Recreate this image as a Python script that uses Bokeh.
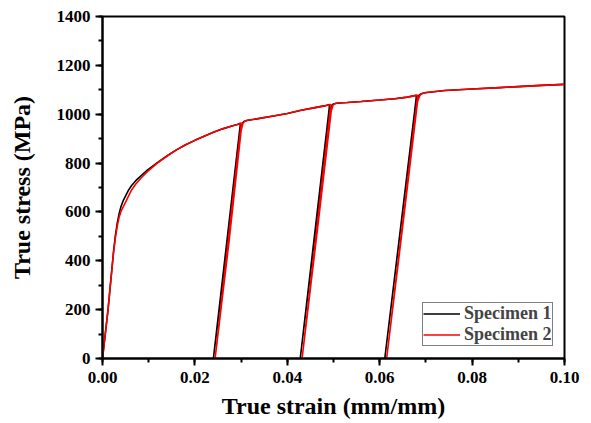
from bokeh.plotting import figure
from bokeh.models import SingleIntervalTicker, NumeralTickFormatter
from bokeh.embed import file_html
from bokeh.resources import INLINE

# Specimen 1 (black): loading, three unload/reload loops, final hardening
strain_1 = [0.0000, 0.0006, 0.0012, 0.0018, 0.0024, 0.0028, 0.0032, 0.0036, 0.0040, 0.0045,
            0.0050, 0.0056, 0.0063, 0.0072, 0.0085, 0.0097, 0.0118, 0.0140, 0.0160, 0.0180,
            0.0200, 0.0220, 0.0240, 0.0260, 0.0280, 0.0292, 0.02985, 0.02975, 0.0240,
            0.0271, 0.0298, 0.0302, 0.0306, 0.0312, 0.0340, 0.0370, 0.0400, 0.0430, 0.0460,
            0.0480, 0.04915, 0.04905, 0.0428, 0.0462, 0.0492, 0.0496, 0.0500, 0.0506, 0.0530,
            0.0560, 0.0600, 0.0633, 0.0660, 0.06795, 0.06785, 0.0611, 0.0647, 0.0679, 0.0684,
            0.0690, 0.0698, 0.0741, 0.0800, 0.0860, 0.0900, 0.0950, 0.1000]
stress_1 = [0, 100, 200, 320, 440, 505, 555, 593, 622, 647,
            666, 688, 708, 728, 751, 771, 801, 830, 854, 875,
            893, 910, 926, 940, 952, 958, 963, 945, 0,
            480, 930, 962, 970, 974, 983, 993, 1003, 1016, 1027,
            1034, 1040, 1020, 0, 540, 1010, 1036, 1042, 1045, 1048,
            1052, 1058, 1063, 1070, 1078, 1058, 0, 560, 1050, 1076,
            1084, 1088, 1097, 1103, 1109, 1113, 1118, 1122]

# Specimen 2 (red)
strain_2 = [0.0000, 0.0006, 0.0012, 0.0018, 0.0024, 0.0028, 0.0032, 0.0036, 0.0040, 0.0045,
            0.0050, 0.0056, 0.0063, 0.0072, 0.0085, 0.0097, 0.0118, 0.0140, 0.0160, 0.0180,
            0.0200, 0.0220, 0.0240, 0.0260, 0.0280, 0.0294, 0.03005, 0.02995, 0.02437,
            0.0274, 0.0300, 0.0304, 0.0308, 0.0314, 0.0340, 0.0370, 0.0400, 0.0430, 0.0460,
            0.0480, 0.0494, 0.0493, 0.0432, 0.0466, 0.0495, 0.0499, 0.0503, 0.0509, 0.0530,
            0.0560, 0.0600, 0.0633, 0.0660, 0.0682, 0.0681, 0.0615, 0.0651, 0.0682, 0.0687,
            0.0692, 0.0700, 0.0741, 0.0800, 0.0860, 0.0900, 0.0950, 0.1000]
stress_2 = [0, 100, 200, 320, 435, 495, 543, 578, 602, 622,
            640, 664, 690, 714, 742, 765, 799, 829, 854, 875,
            893, 910, 926, 940, 952, 959, 964, 946, 0,
            480, 932, 963, 971, 975, 983, 993, 1003, 1016, 1027,
            1034, 1040, 1020, 0, 540, 1012, 1037, 1043, 1046, 1048,
            1052, 1058, 1063, 1070, 1078, 1058, 0, 560, 1052, 1077,
            1085, 1089, 1097, 1103, 1109, 1113, 1118, 1122]

x_tick_interval = 0.02
y_tick_interval = 200

FONT = "Liberation Serif"

p = figure(width=589, height=421, x_range=(0, 0.1), y_range=(0, 1400),
           output_backend="svg", toolbar_location=None,
           min_border_left=102, min_border_right=25, min_border_top=16, min_border_bottom=62)

p.line(strain_1, stress_1, line_color="black", line_width=1.6, legend_label="Specimen 1")
p.line(strain_2, stress_2, line_color="#ff0000", line_width=1.6, legend_label="Specimen 2")

p.xgrid.visible = False
p.ygrid.visible = False
p.outline_line_color = "black"
p.outline_line_width = 2

p.xaxis.ticker = SingleIntervalTicker(interval=x_tick_interval, num_minor_ticks=2)
p.yaxis.ticker = SingleIntervalTicker(interval=y_tick_interval, num_minor_ticks=2)
p.xaxis.formatter = NumeralTickFormatter(format="0.00")
p.yaxis.formatter = NumeralTickFormatter(format="0")

for ax in (p.xaxis, p.yaxis):
    ax.axis_line_width = 2
    ax.axis_line_color = "black"
    ax.major_tick_line_width = 2
    ax.minor_tick_line_width = 2
    ax.major_tick_in = 0
    ax.major_tick_out = 7
    ax.minor_tick_in = 0
    ax.minor_tick_out = 4
    ax.major_label_text_font = FONT
    ax.major_label_text_font_style = "bold"
    ax.major_label_text_font_size = "17px"
    ax.major_label_text_color = "black"
    ax.axis_label_text_font = FONT
    ax.axis_label_text_font_style = "bold"
    ax.axis_label_text_font_size = "24px"
    ax.axis_label_text_color = "black"

p.xaxis.axis_label = "True strain (mm/mm)"
p.yaxis.axis_label = "True stress (MPa)"
p.xaxis.major_label_standoff = 6
p.yaxis.major_label_standoff = 5
p.xaxis.axis_label_standoff = 7
p.yaxis.axis_label_standoff = 19

leg = p.legend[0]
leg.location = (320, 12)
leg.border_line_color = "black"
leg.border_line_width = 1
leg.background_fill_color = "white"
leg.background_fill_alpha = 1
leg.label_text_font = FONT
leg.label_text_font_style = "bold"
leg.label_text_font_size = "18px"
leg.glyph_width = 37
leg.glyph_height = 19
leg.label_height = 19
leg.label_standoff = 4
leg.padding = 0
leg.spacing = 0
leg.margin = 0

open("out.html", "w").write(file_html(p, INLINE))
